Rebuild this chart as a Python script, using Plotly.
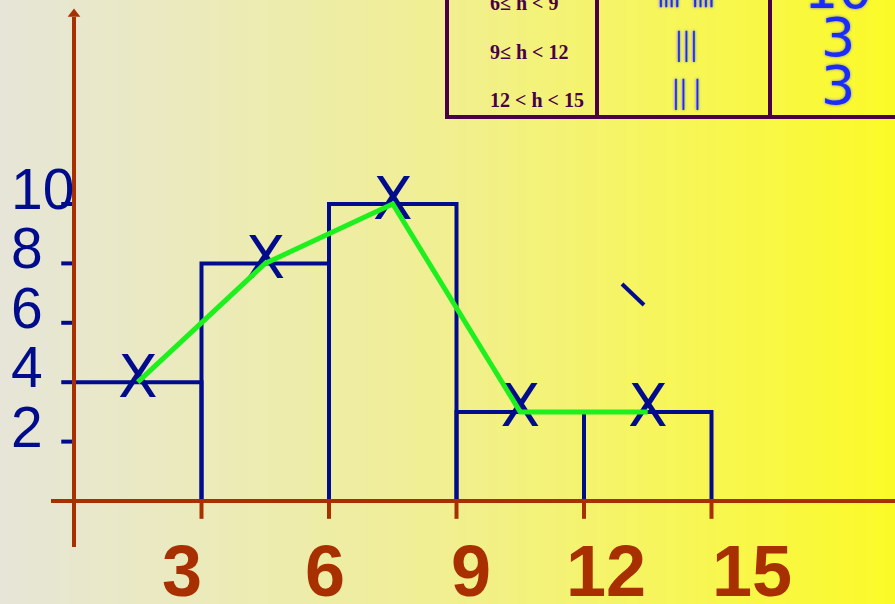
import plotly.graph_objects as go

# histogram data: class edges and frequencies
edges = [0, 3, 6, 9, 12, 15]
freq = [4, 8, 10, 3, 3]
x_ticks = [3, 6, 9, 12, 15]
y_ticks = [2, 4, 6, 8, 10]

# tally table (top right, partly cut off)
class_labels = ["6≤ h < 9", "9≤ h < 12", "12 < h < 15"]
tally_marks = ["卌 卌", "|||", "|| |"]
table_freq = freq[2:]

NAVY = "#000c8c"
BROWN = "#a83000"
GREEN = "#1ef01e"
PURPLE = "#4a0046"
PEN = "#1a2cf5"

# axis ranges chosen so the plot area fills the whole 895x604 page
X0_PX, X_SCALE = 74, 42.5
Y0_PX, Y_SCALE = 501, 29.7
W, H = 895, 604
x_range = [-X0_PX / X_SCALE, (W - X0_PX) / X_SCALE]
y_range = [(Y0_PX - H) / Y_SCALE, Y0_PX / Y_SCALE]

# hand-drawn labels sit a little off their ticks
x_label_shift = [-20, -4, 14, 22, 40]

fig = go.Figure()

# histogram outline
hx, hy = [], []
for i, f in enumerate(freq):
    hx += [edges[i], edges[i], edges[i + 1], edges[i + 1], None]
    hy += [0, f, f, 0, None]
fig.add_trace(go.Scatter(x=hx, y=hy, mode="lines",
                         line=dict(color=NAVY, width=4), hoverinfo="skip"))

# class mid points
mids = [(edges[i] + edges[i + 1]) / 2 for i in range(len(freq))]
fig.add_trace(go.Scatter(x=mids, y=freq, mode="text", text=["X"] * len(mids),
                         textposition="middle center", hoverinfo="skip",
                         textfont=dict(family="DejaVu Sans", size=58, color=NAVY)))

# frequency polygon
fig.add_trace(go.Scatter(x=mids, y=freq, mode="lines",
                         line=dict(color=GREEN, width=5)))

# y tick dashes
tx, ty = [], []
for v in y_ticks:
    tx += [-0.3, 0, None]
    ty += [v, v, None]
fig.add_trace(go.Scatter(x=tx, y=ty, mode="lines",
                         line=dict(color=NAVY, width=4), hoverinfo="skip"))

# x tick marks
tx, ty = [], []
for v in x_ticks:
    tx += [v, v, None]
    ty += [0, -0.6, None]
fig.add_trace(go.Scatter(x=tx, y=ty, mode="lines",
                         line=dict(color=BROWN, width=4), hoverinfo="skip"))

# axes lines
fig.add_trace(go.Scatter(x=[x_range[0] + 1.2, x_range[1]], y=[0, 0], mode="lines",
                         line=dict(color=BROWN, width=4), hoverinfo="skip"))
fig.add_trace(go.Scatter(x=[0, 0], y=[-1.55, 16.3], mode="lines",
                         line=dict(color=BROWN, width=4), hoverinfo="skip"))
fig.add_trace(go.Scatter(x=[0], y=[16.4], mode="markers",
                         marker=dict(symbol="triangle-up", size=11, color=BROWN),
                         hoverinfo="skip"))

# background gradient (grey-beige -> yellow)
stops = [(0.0, (230, 229, 216)), (0.25, (236, 235, 184)), (0.5, (241, 239, 144)),
         (0.72, (246, 245, 96)), (1.0, (251, 250, 40))]


def grad(t):
    for (t0, c0), (t1, c1) in zip(stops, stops[1:]):
        if t <= t1:
            k = (t - t0) / (t1 - t0)
            return "rgb(%d,%d,%d)" % tuple(round(a + (b - a) * k) for a, b in zip(c0, c1))
    return "rgb(%d,%d,%d)" % stops[-1][1]


shapes = []
n = 90
for i in range(n):
    shapes.append(dict(type="rect", xref="paper", yref="paper", layer="below",
                       x0=i / n, x1=(i + 1) / n + 0.002, y0=0, y1=1,
                       fillcolor=grad((i + 0.5) / n), line=dict(width=0)))


# table borders (pixel positions converted to paper)
def px(x):
    return x / W


def py(y):
    return 1 - y / H


for xv in [447, 597, 770]:
    shapes.append(dict(type="line", xref="paper", yref="paper",
                       x0=px(xv), x1=px(xv), y0=py(-5), y1=py(117),
                       line=dict(color=PURPLE, width=4)))
shapes.append(dict(type="line", xref="paper", yref="paper",
                   x0=px(445), x1=px(900), y0=py(117), y1=py(117),
                   line=dict(color=PURPLE, width=4)))
# stray pen stroke
shapes.append(dict(type="line", xref="paper", yref="paper",
                   x0=px(622), x1=px(644), y0=py(284), y1=py(305),
                   line=dict(color=NAVY, width=4)))

annotations = []
for v, dx in zip(x_ticks, x_label_shift):
    annotations.append(dict(x=v, y=-2.35, xshift=dx, text="<b>%d</b>" % v, showarrow=False,
                            xanchor="center", yanchor="middle",
                            font=dict(family="Liberation Sans", size=72, color=BROWN)))
for v in y_ticks:
    annotations.append(dict(x=-1.52, y=v, yshift=15, text=str(v), showarrow=False,
                            xanchor="left", yanchor="middle",
                            font=dict(family="Liberation Sans", size=57, color=NAVY)))

row_y = [3, 52, 100]
for lab, tal, f, yv in zip(class_labels, tally_marks, table_freq, row_y):
    annotations.append(dict(x=px(488), y=py(yv), xref="paper", yref="paper",
                            text="<b>%s</b>" % lab, showarrow=False,
                            xanchor="left", yanchor="middle",
                            font=dict(family="Liberation Serif", size=20, color=PURPLE)))
    annotations.append(dict(x=px(686), y=py(yv - 10), xref="paper", yref="paper",
                            text=tal, showarrow=False,
                            xanchor="center", yanchor="middle",
                            font=dict(family="Noto Sans CJK SC", size=28, color=PEN,
                                      shadow="0px 0px 3px #6a74c8")))
    annotations.append(dict(x=px(838), y=py(yv - 14), xref="paper", yref="paper",
                            text=str(f), showarrow=False,
                            xanchor="center", yanchor="middle",
                            font=dict(family="DejaVu Sans", size=54, color=PEN,
                                      shadow="0px 0px 3px #6a74c8")))

fig.update_layout(
    width=W, height=H, autosize=False,
    margin=dict(l=0, r=0, t=0, b=0),
    paper_bgcolor="#f0ee9a", plot_bgcolor="rgba(0,0,0,0)",
    showlegend=False,
    xaxis=dict(range=x_range, visible=False, fixedrange=True),
    yaxis=dict(range=y_range, visible=False, fixedrange=True),
    shapes=shapes, annotations=annotations,
)

fig.write_html("out.html", config={"displayModeBar": False},
               post_script="document.body.style.margin='0';")
